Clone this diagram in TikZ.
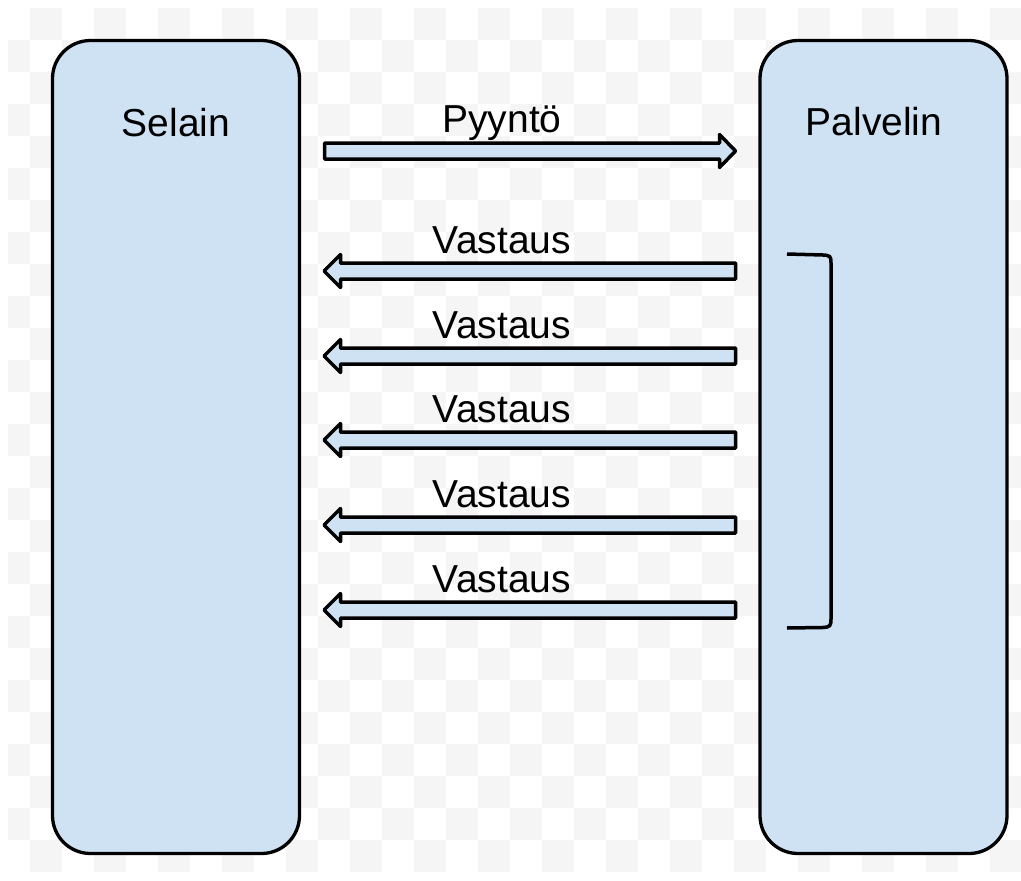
\documentclass[tikz,border=0pt]{standalone}
\usepackage{fontspec}
\setmainfont{Liberation Sans}
\definecolor{boxfill}{HTML}{CFE2F3}
\definecolor{checker}{HTML}{F5F5F5}
\tikzset{
  pane/.style={draw=black, line width=3.3pt, fill=boxfill, rounded corners=38pt,
    minimum width=247pt, minimum height=813pt, inner sep=0pt, outer sep=0pt},
  lbl/.style={anchor=base, inner sep=0pt, font=\fontsize{39}{47}\selectfont},
  blockarrow/.style={draw=black, line width=3.5pt, fill=boxfill, line join=round},
  bracketline/.style={draw=black, line width=3.5pt, line cap=butt}
}
\begin{document}
\begin{tikzpicture}[x=1pt,y=-1pt]
\useasboundingbox (0,0) rectangle (1021,881);
\fill[white] (0,0) rectangle (1021,881);
% checkerboard background
\begin{scope}
  \clip (8,8) rectangle (1021,872);
  \foreach \c in {0,...,31}{
    \foreach \r in {0,...,26}{
      \ifodd\numexpr\c+\r\relax
        \fill[checker] ({-2+32*\c},{8+32*\r}) rectangle ++(32,32);
      \fi
    }
  }
\end{scope}
% boxes
\node[pane] (selain) at (176,447) {};
\node[pane] (palvelin) at (883.5,447) {};
\node[lbl] (selainlbl) at (176,136) {Selain};
\node[lbl] (palvelinlbl) at (874,135) {Palvelin};
% request arrow
\def\c{151}
\draw[blockarrow] (324.5,\c-8) -- (719.5,\c-8) -- (719.5,\c-16.5) -- (735.5,\c)
  -- (719.5,\c+16.5) -- (719.5,\c+8) -- (324.5,\c+8) -- cycle;
\node[lbl] (pyynto) at (502,132) {Pyyntö};
% response arrows
\foreach \c/\n in {271/1,356/2,440/3,525/4,610/5}{
  \draw[blockarrow] (735.5,\c-8) -- (340.5,\c-8) -- (340.5,\c-16.5) -- (324,\c)
    -- (340.5,\c+16.5) -- (340.5,\c+8) -- (735.5,\c+8) -- cycle;
  \node[lbl] (vastaus\n) at (502,\c-18) {Vastaus};
}
% bracket
\coordinate (bt) at (787,254);
\coordinate (bb) at (787,628);
\draw[bracketline] (bt) -- (823,255) .. controls (830,255.5) and (831,256) .. (831,263)
  -- (831,619) .. controls (831,626) and (830,627) .. (823,627.5) -- (bb);
\end{tikzpicture}
\end{document}
